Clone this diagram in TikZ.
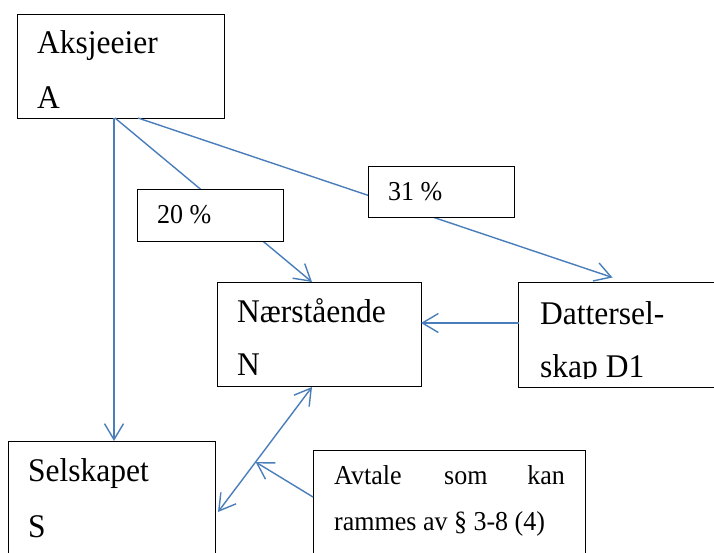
\documentclass[tikz,border=0pt]{standalone}
\usepackage{fontspec}
\setmainfont{Liberation Serif}
\usetikzlibrary{arrows.meta,calc}
\definecolor{lineblue}{HTML}{4A7EBB}
\newcommand{\talltext}[1]{\scalebox{1}[1.05]{#1}}
\begin{document}
\begin{tikzpicture}[x=1pt,y=-1pt,
  box/.style={draw=black,line width=0.9pt,fill=white,rectangle,inner sep=0pt,outer sep=0pt,anchor=north west},
  big/.style={font=\fontsize{31.5}{55}\selectfont,anchor=base west,inner sep=0pt},
  small/.style={font=\fontsize{26}{47}\selectfont,anchor=base west,inner sep=0pt},
  conn/.style={draw=lineblue,line width=1.4pt,-{Straight Barb[length=16pt,width=19pt]}},
  conntwo/.style={draw=lineblue,line width=1.4pt,{Straight Barb[length=16pt,width=19pt]}-{Straight Barb[length=16pt,width=19pt]}}]
\useasboundingbox (0,0) rectangle (714,552);
\clip (0,0) rectangle (714,552);
\fill[white] (0,0) rectangle (714,552);
% main boxes
\node[box,minimum width=207pt,minimum height=104pt] (A) at (17,14) {};
\node[box,minimum width=204pt,minimum height=104pt] (N) at (217,282) {};
\node[box,minimum width=200pt,minimum height=105pt] (D) at (518.5,282.5) {};
\node[box,minimum width=207pt,minimum height=130pt] (S) at (8,441) {};
\node[box,minimum width=272pt,minimum height=120pt] (Av) at (313,450) {};
% connector end points
\coordinate (s1) at ([xshift=3pt,yshift=-6pt]S.east);
\coordinate (n1) at ([xshift=-7pt,yshift=-1pt]N.south);
\coordinate (m) at ($(s1)!0.4!(n1)$);
% connectors
\draw[conn] ([xshift=-6.5pt]A.south) -- ([xshift=-6.5pt]A.south |- S.north);
\draw[conn] ([xshift=-5.5pt]A.south) -- ([xshift=-7pt]N.north);
\draw[conn] ([xshift=17.5pt]A.south) -- ([xshift=-6pt,yshift=5pt]D.north);
\draw[conn] ([yshift=12pt]D.west) -- ([yshift=12pt]D.west -| N.east);
\draw[conntwo] (s1) -- (n1);
\draw[conn] ([yshift=13pt]Av.west) -- (m);
% label boxes on top of the lines
\node[box,minimum width=146pt,minimum height=52pt] (P20) at (137,189) {};
\node[box,minimum width=146pt,minimum height=51pt] (P31) at (368,166) {};
% texts
\node[big] (tA1) at (37,53) {\talltext{Aksjeeier}};
\node[big] (tA2) at (37,108) {\talltext{A}};
\node[big] (tN1) at (237,322) {\talltext{Nærstående}};
\node[big] (tN2) at (237,375) {\talltext{N}};
\node[big] (tD1) at (540,324) {\talltext{Dattersel-}};
\begin{scope}
\clip (519,283) rectangle (712,378);
\node[big] (tD2) at (540,377) {\talltext{skap D1}};
\end{scope}
\node[big] (tS1) at (28,481) {\talltext{Selskapet}};
\node[big] (tS2) at (28,537) {\talltext{S}};
\node[small] (t20) at (157,223) {\talltext{20 \%}};
\node[small] (t31) at (388,200) {\talltext{31 \%}};
\node[small] (tv1) at (334,484) {\talltext{Avtale}};
\node[small] (tv2) at (444,484) {\talltext{som}};
\node[small,anchor=base east] (tv3) at (565,484) {\talltext{kan}};
\node[small] (tv4) at (334,530.5) {\talltext{rammes av § 3-8 (4)}};
\end{tikzpicture}
\end{document}
